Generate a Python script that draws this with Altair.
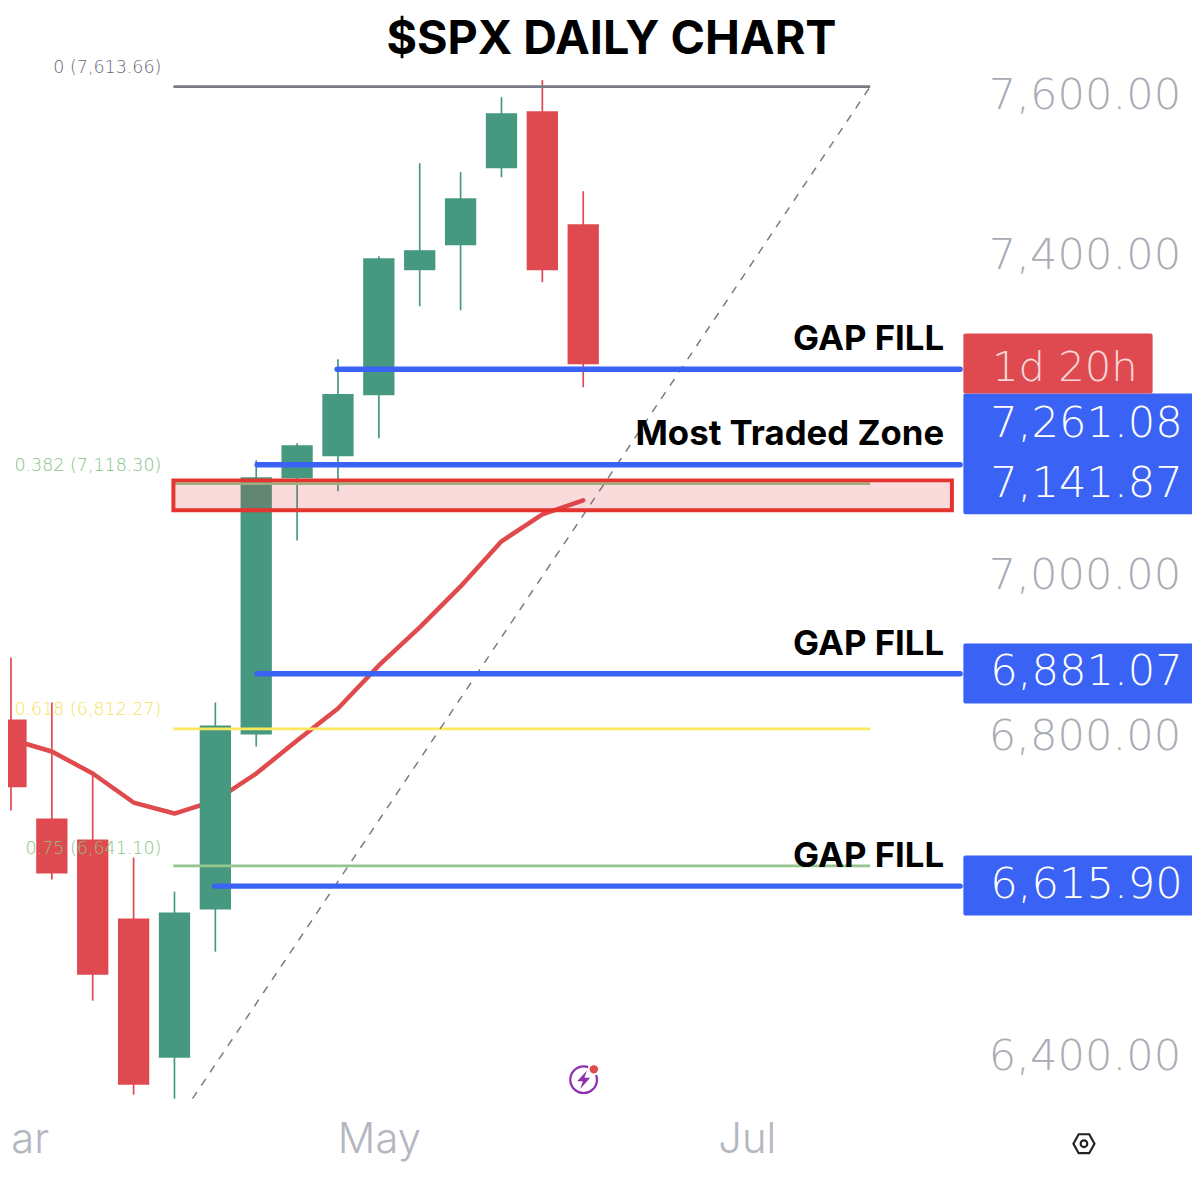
import altair as alt
import pandas as pd

# ---- weekly candles (index 0 = first March bar) ----
bar_index = list(range(15))
opens = [6823.9, 6700.2, 6674.0, 6575.4, 6401.8, 6586.6, 6805.1, 7124.8, 7152.3, 7228.5, 7384.6, 7415.8, 7512.0, 7583.1, 7442.0]
closes = [6739.3, 6631.6, 6505.4, 6368.1, 6582.9, 6816.4, 7126.1, 7166.0, 7230.1, 7399.6, 7409.6, 7474.5, 7580.6, 7384.6, 7267.2]
highs = [6901.3, 6845.1, 6756.4, 6651.5, 6609.1, 6845.1, 7147.3, 7168.5, 7273.4, 7402.1, 7518.2, 7507.0, 7600.6, 7621.9, 7483.2]
lows = [6710.2, 6624.1, 6473.0, 6355.6, 6350.6, 6534.1, 6790.2, 7047.4, 7108.6, 7174.8, 7339.6, 7334.6, 7500.7, 7369.6, 7238.5]
ma_values = [6798.9, 6783.9, 6756.4, 6720.2, 6706.5, 6722.7, 6756.4, 6797.6, 6837.6, 6891.3, 6938.8, 6990.0, 7046.2, 7079.9, 7097.4]

# ---- fibonacci levels ----
fib_names = ["0", "0.382", "0.618", "0.75"]
fib_prices = [7613.66, 7118.30, 6812.27, 6641.10]
fib_colors = ["#787b86", "#8fc78f", "#fbe85f", "#93c68c"]
fib_text_colors = ["#666a76", "#84c084", "#f5e158", "#8fbf80"]
fib_label_prices = [7636.8, 7139.8, 6835.1, 6662.8]
fib_start, fib_end = 3.974, 21.02

# ---- levels ----
level_prices = [7261.08, 7141.87, 6881.07, 6615.90]
level_starts = [7.98, 6.02, 6.02, 4.98]
level_end = 23.22
level_tag_prices = [7193.0, 7118.1, 6883.3, 6617.3]

tag_x0, tag_x1 = 23.30, 29.01
tag_tops = [7230.6, 6918.8, 6654.0]
tag_bottoms = [7079.9, 6843.8, 6579.1]

note_texts = ["GAP FILL", "Most Traded Zone", "GAP FILL", "GAP FILL"]
note_prices = [7298.4, 7179.8, 6917.5, 6652.8]

y_ticks = [7600, 7400, 7000, 6800, 6400]
x_ticks = [0, 9, 18]
x_tick_names = ["Mar", "May", "Jul"]

GREEN, RED, BLUE, GREY = "#479880", "#df4a50", "#3a62f4", "#a9acb5"
FONT = "Inter"
NUM_FONT = "DejaVu Sans"

x_scale = alt.Scale(domain=[0.0489, 28.772], nice=False, zero=False)
y_scale = alt.Scale(domain=[6263.96, 7707.0], nice=False, zero=False)
name_expr = "+".join(
    f"(datum.value=={t}?'{n}':'')" for t, n in zip(x_ticks, x_tick_names)
)
x_axis = alt.Axis(values=x_ticks, labelExpr=name_expr, title=None, domain=False, ticks=False, grid=False,
                  labelFontSize=42, labelColor="#b4b7bf", labelFont=FONT, labelFontWeight=300, labelLimit=400,
                  labelBaseline="middle", labelPadding=-29, labelOverlap=False, labelFlush=False, labelBound=False)
y_axis = alt.Axis(values=y_ticks, format=",.2f", orient="right", title=None, domain=False, ticks=False, grid=False,
                  labelFontSize=43.5, labelColor=GREY, labelFont=NUM_FONT, labelFontWeight=200, labelAlign="left",
                  labelLimit=400, labelPadding=-205, labelOffset=-2.5, labelOverlap=False, labelFlush=False,
                  labelBound=False)


def X(f):
    return alt.X(f"{f}:Q", scale=x_scale, axis=x_axis)


def Y(f):
    return alt.Y(f"{f}:Q", scale=y_scale, axis=y_axis)


candles = pd.DataFrame({"i": bar_index, "o": opens, "c": closes, "h": highs, "l": lows, "ma": ma_values})
candles["color"] = [GREEN if c > o else RED for o, c in zip(opens, closes)]

ma = alt.Chart(candles).mark_line(color="#e04a4c", strokeWidth=4.5, strokeCap="round", strokeJoin="round").encode(
    x=X("i"), y=Y("ma"))
wicks = alt.Chart(candles).mark_rule(strokeWidth=1.7).encode(
    x=X("i"), y=Y("l"), y2="h:Q", color=alt.Color("color:N", scale=None))
bodies = alt.Chart(candles).mark_bar(size=31.5).encode(
    x=X("i"), y=Y("o"), y2="c:Q", color=alt.Color("color:N", scale=None))

fibs = pd.DataFrame({"name": fib_names, "p": fib_prices, "lp": fib_label_prices, "col": fib_colors,
                     "tcol": fib_text_colors, "x0": fib_start, "x1": fib_end})
fibs["label"] = [f"{n} ({p:,.2f})" for n, p in zip(fib_names, fib_prices)]
fibs["tx"] = 3.68
fib_lines = alt.Chart(fibs).mark_rule(strokeWidth=2.8).encode(
    x=X("x0"), x2="x1:Q", y=Y("p"), color=alt.Color("col:N", scale=None))
fib_labels = alt.Chart(fibs).mark_text(align="right", baseline="middle", fontSize=17.6, font=NUM_FONT, fontWeight=200).encode(
    x=X("tx"), y=Y("lp"), text="label:N", color=alt.Color("tcol:N", scale=None))

diag = pd.DataFrame({"x": [4.44, fib_end], "y": [6350.6, fib_prices[0]]})
diagonal = alt.Chart(diag).mark_line(color="#787b86", strokeWidth=1.5, strokeDash=[8, 8]).encode(x=X("x"), y=Y("y"))

zone = pd.DataFrame({"x0": [fib_start], "x1": [23.02], "top": [7122.3], "bot": [7084.9]})
zone_box = alt.Chart(zone).mark_rect(fill="#e0393b", fillOpacity=0.18, stroke="#e5332f", strokeWidth=4).encode(
    x=X("x0"), x2="x1:Q", y=Y("bot"), y2="top:Q")

levels = pd.DataFrame({"p": level_prices, "x0": level_starts, "x1": level_end, "tp": level_tag_prices})
levels["label"] = [f"{p:,.2f}" for p in level_prices]
levels["tx"] = 23.96
level_lines = alt.Chart(levels).transform_fold(["x0", "x1"], as_=["end", "xv"]).mark_line(
    color=BLUE, strokeWidth=5.5, strokeCap="round").encode(
    x=X("xv"), y=Y("p"), detail="p:Q")

tags = pd.DataFrame({"x0": tag_x0, "x1": tag_x1, "top": tag_tops, "bot": tag_bottoms})
tag_rects = alt.Chart(tags).mark_rect(fill=BLUE, cornerRadius=2).encode(x=X("x0"), x2="x1:Q", y=Y("bot"), y2="top:Q")
timer = pd.DataFrame({"x0": [tag_x0], "x1": [27.93], "top": [7305.5], "bot": [7230.6], "tx": [24.0], "ty": [7262.0],
                      "label": ["1d 20h"]})
timer_rect = alt.Chart(timer).mark_rect(fill=RED, cornerRadius=2).encode(x=X("x0"), x2="x1:Q", y=Y("bot"), y2="top:Q")
timer_text = alt.Chart(timer).mark_text(align="left", baseline="middle", fontSize=42, font=NUM_FONT, fontWeight=200,
                                        color="#f8d7d8").encode(x=X("tx"), y=Y("ty"), text="label:N")
tag_text = alt.Chart(levels).mark_text(align="left", baseline="middle", fontSize=43.5, font=NUM_FONT, fontWeight=200,
                                       color="#ffffff").encode(x=X("tx"), y=Y("tp"), text="label:N")

notes = pd.DataFrame({"t": note_texts, "p": note_prices, "x": 22.83})
note_text = alt.Chart(notes).mark_text(align="right", baseline="middle", fontSize=35, font=FONT, fontWeight=700,
                                       color="#000000").encode(x=X("x"), y=Y("p"), text="t:N")

title = pd.DataFrame({"t": ["$SPX DAILY CHART"], "x": [14.69], "p": [7672.0]})
title_text = alt.Chart(title).mark_text(align="center", baseline="middle", fontSize=47, font=FONT, fontWeight=700,
                                        color="#000000").encode(x=X("x"), y=Y("p"), text="t:N")

# small icons
bolt_pos = pd.DataFrame({"x": [14.01], "p": [6374.3]})
dot_pos = pd.DataFrame({"x": [14.26], "p": [6387.2]})
hex_pos = pd.DataFrame({"x": [26.25], "p": [6294.4]})
ring = alt.Chart(bolt_pos).mark_point(shape="circle", size=720, filled=False, stroke="#8e2fb0", strokeWidth=2.2,
                                      opacity=1).encode(x=X("x"), y=Y("p"))
bolt = alt.Chart(bolt_pos).mark_point(
    shape="M.18 -.5 L-.35 .08 L-.04 .08 L-.18 .5 L.35 -.1 L.04 -.1 Z", size=1400, filled=True, fill="#8e2fb0",
    strokeWidth=0, opacity=1).encode(x=X("x"), y=Y("p"))
dot = alt.Chart(dot_pos).mark_point(shape="circle", size=110, filled=True, fill="#e04a4c", stroke="#ffffff",
                                    strokeWidth=2, opacity=1).encode(x=X("x"), y=Y("p"))
hexagon = alt.Chart(hex_pos).mark_point(
    shape="M-.5 0 L-.25 -.45 L.25 -.45 L.5 0 L.25 .45 L-.25 .45 Z", size=1800, filled=False, stroke="#222222",
    strokeWidth=2.2, opacity=1).encode(x=X("x"), y=Y("p"))
hex_hole = alt.Chart(hex_pos).mark_point(shape="circle", size=45, filled=False, stroke="#222222", strokeWidth=2.2,
                                         opacity=1).encode(x=X("x"), y=Y("p"))

chart = alt.layer(
    ma, wicks, bodies, fib_lines, diagonal, zone_box, level_lines, fib_labels,
    tag_rects, timer_rect, timer_text, tag_text, note_text, title_text,
    ring, bolt, dot, hexagon, hex_hole,
).properties(
    width=1192, height=1164, padding=0, background="#ffffff",
    autosize=alt.AutoSizeParams(type="none"),
).configure_view(stroke=None)

chart.save("out.html", embed_options={"renderer": "svg", "actions": False})
